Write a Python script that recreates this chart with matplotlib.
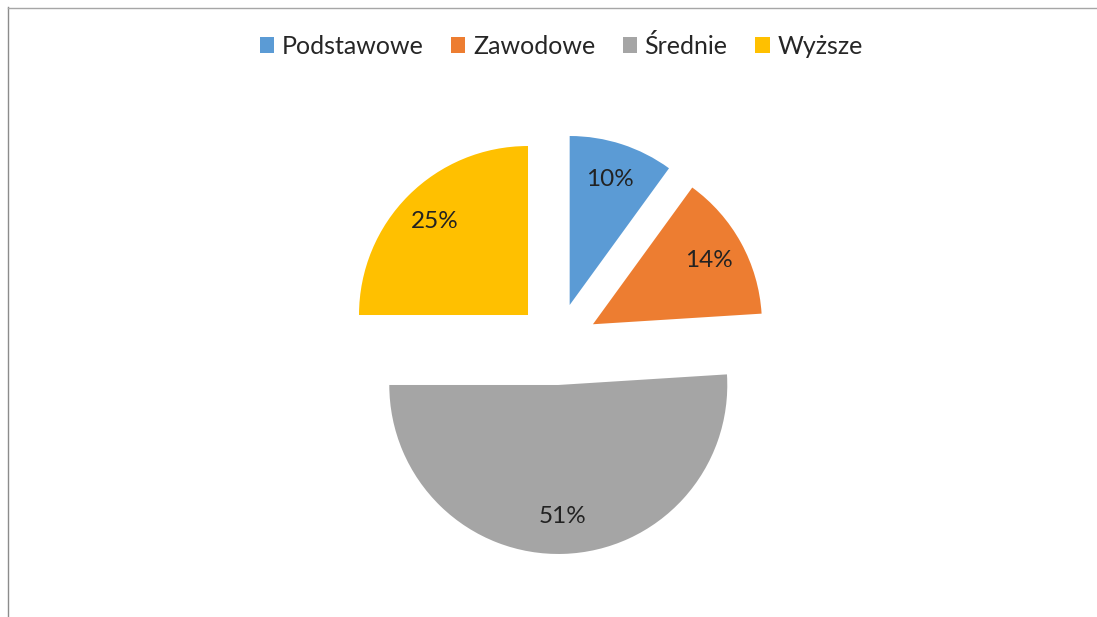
import matplotlib
matplotlib.use("Agg")
import matplotlib.pyplot as plt
from matplotlib.lines import Line2D
from matplotlib.patches import Patch

categories = ["Podstawowe", "Zawodowe", "Średnie", "Wyższe"]
values = [10, 14, 51, 25]
colors = ["#5B9BD5", "#ED7D31", "#A5A5A5", "#FFC000"]

W, H = 1097, 617
fig = plt.figure(figsize=(W / 100, H / 100), dpi=100)
ax = fig.add_axes([0, 0, 1, 1])

R = 169
cx, cy = 557, H - 344
explode = [41] * len(values)  # offset in data units (pixels)

wedges, texts, autotexts = ax.pie(
    values, colors=colors, explode=explode, startangle=90, counterclock=False,
    radius=R, center=(cx, cy), autopct="%1.0f%%", pctdistance=0.78,
    wedgeprops=dict(linewidth=0), textprops=dict(fontsize=17.5, color="#222222", family="Lato"),
)
ax.set_xlim(0, W)
ax.set_ylim(0, H)
ax.set_aspect("equal")
ax.axis("off")

handles = [Patch(facecolor=c, edgecolor="none") for c in colors]
fig.legend(handles, categories, loc="center", bbox_to_anchor=(561 / W, 1 - 46 / H), ncol=4,
           frameon=False, prop=dict(family="Lato", size=18), handlelength=0.58, handleheight=0.58,
           handletextpad=0.3, columnspacing=1.1, labelcolor="#262626")

fig.add_artist(Line2D([7.5 / W, 7.5 / W], [0, 1 - 7 / H], transform=fig.transFigure, color="#8c8c8c", lw=1))
fig.add_artist(Line2D([7.5 / W, 1], [1 - 7.5 / H, 1 - 7.5 / H], transform=fig.transFigure, color="#a6a6a6", lw=1))

fig.savefig("out.png", dpi=100)
